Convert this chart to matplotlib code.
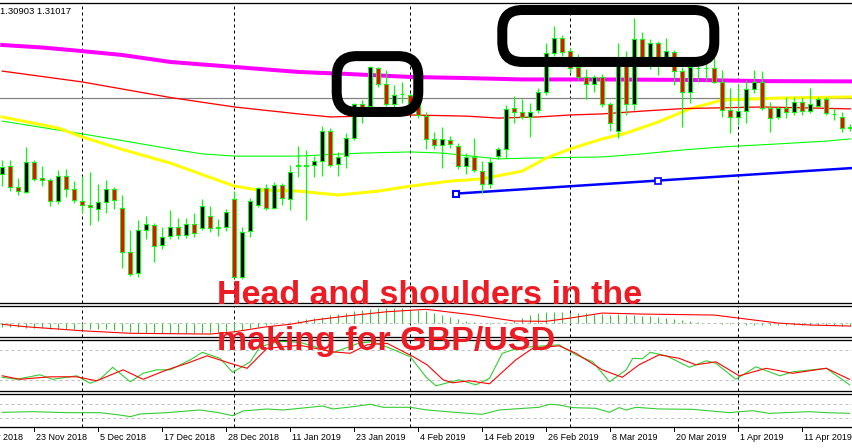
import matplotlib
matplotlib.use("Agg")
import matplotlib.pyplot as plt
from matplotlib.patches import Rectangle, FancyBboxPatch
from matplotlib.transforms import blended_transform_factory

plt.rcParams['font.family'] = ['Liberation Sans', 'DejaVu Sans']

# GBP/USD daily candles, bar 0 = 14 Nov 2018 ... bar 106 = 19 Apr 2019
opens = [1.2815, 1.2843, 1.2768, 1.2750, 1.2858, 1.2800, 1.2793, 1.2717, 1.2807, 1.2761,
         1.2717, 1.2703, 1.2689, 1.2714, 1.2761, 1.2692, 1.2534, 1.2458, 1.2613, 1.2631,
         1.2559, 1.2591, 1.2624, 1.2595, 1.2635, 1.2620, 1.2663, 1.2624, 1.2624, 1.2725,
         1.2444, 1.2609, 1.2703, 1.2764, 1.2692, 1.2775, 1.2725, 1.2847, 1.2847, 1.2847,
         1.2861, 1.2969, 1.2851, 1.2879, 1.2944, 1.3067, 1.3059, 1.3196, 1.3139, 1.3067,
         1.3103, 1.3099, 1.3070, 1.3023, 1.2941, 1.2919, 1.2937, 1.2915, 1.2843, 1.2876,
         1.2825, 1.2779, 1.2879, 1.2905, 1.3052, 1.3038, 1.3020, 1.3045, 1.3110, 1.3250,
         1.3304, 1.3257, 1.3200, 1.3164, 1.3139, 1.3164, 1.3067, 1.2969, 1.3218, 1.3067,
         1.3301, 1.3236, 1.3286, 1.3236, 1.3254, 1.3185, 1.3110, 1.3196, 1.3196, 1.3196,
         1.3146, 1.3045, 1.3020, 1.3041, 1.3121, 1.3146, 1.3052, 1.3020, 1.3052, 1.3038,
         1.3074, 1.3041, 1.3059, 1.3085, 1.3031, 1.3020, 1.2980]
highs = [1.2865, 1.2865, 1.2800, 1.2912, 1.2865, 1.2843, 1.2800, 1.2829, 1.2833, 1.2789,
         1.2807, 1.2822, 1.2779, 1.2793, 1.2768, 1.2739, 1.2613, 1.2649, 1.2663, 1.2638,
         1.2624, 1.2685, 1.2656, 1.2656, 1.2674, 1.2725, 1.2699, 1.2653, 1.2689, 1.2753,
         1.2624, 1.2728, 1.2768, 1.2779, 1.2786, 1.2782, 1.2847, 1.2915, 1.2901, 1.2879,
         1.2987, 1.2980, 1.2894, 1.2962, 1.3070, 1.3081, 1.3203, 1.3200, 1.3189, 1.3135,
         1.3146, 1.3106, 1.3081, 1.3038, 1.2966, 1.2984, 1.2951, 1.2926, 1.2890, 1.2944,
         1.2861, 1.2872, 1.2912, 1.3063, 1.3095, 1.3085, 1.3070, 1.3124, 1.3286, 1.3347,
         1.3315, 1.3268, 1.3247, 1.3193, 1.3171, 1.3175, 1.3074, 1.3286, 1.3257, 1.3376,
         1.3326, 1.3301, 1.3293, 1.3304, 1.3261, 1.3200, 1.3218, 1.3207, 1.3211, 1.3232,
         1.3189, 1.3124, 1.3139, 1.3153, 1.3189, 1.3185, 1.3074, 1.3059, 1.3092, 1.3092,
         1.3092, 1.3124, 1.3092, 1.3092, 1.3052, 1.3038, 1.2995]
lows = [1.2771, 1.2753, 1.2739, 1.2746, 1.2789, 1.2771, 1.2699, 1.2707, 1.2732, 1.2710,
        1.2674, 1.2631, 1.2645, 1.2674, 1.2689, 1.2476, 1.2447, 1.2444, 1.2581, 1.2498,
        1.2545, 1.2581, 1.2581, 1.2584, 1.2588, 1.2613, 1.2606, 1.2591, 1.2609, 1.2440,
        1.2437, 1.2588, 1.2696, 1.2685, 1.2689, 1.2703, 1.2685, 1.2804, 1.2649, 1.2804,
        1.2807, 1.2840, 1.2807, 1.2836, 1.2937, 1.2998, 1.3052, 1.3128, 1.3059, 1.3052,
        1.3070, 1.3059, 1.3016, 1.2905, 1.2905, 1.2836, 1.2908, 1.2833, 1.2815, 1.2822,
        1.2746, 1.2764, 1.2869, 1.2872, 1.2998, 1.3013, 1.2948, 1.3034, 1.3099, 1.3239,
        1.3239, 1.3178, 1.3153, 1.3085, 1.3110, 1.3056, 1.2969, 1.2944, 1.3027, 1.3045,
        1.3225, 1.3193, 1.3171, 1.3225, 1.3135, 1.2984, 1.3070, 1.3146, 1.3149, 1.3142,
        1.3020, 1.2962, 1.2991, 1.2998, 1.3106, 1.3045, 1.2966, 1.3013, 1.3016, 1.3027,
        1.3027, 1.3034, 1.3056, 1.3027, 1.3009, 1.2966, 1.2969]
closes = [1.2840, 1.2768, 1.2753, 1.2858, 1.2797, 1.2793, 1.2717, 1.2807, 1.2761, 1.2721,
          1.2703, 1.2696, 1.2714, 1.2761, 1.2721, 1.2534, 1.2455, 1.2613, 1.2635, 1.2555,
          1.2588, 1.2624, 1.2595, 1.2635, 1.2602, 1.2699, 1.2620, 1.2620, 1.2678, 1.2444,
          1.2606, 1.2717, 1.2764, 1.2692, 1.2775, 1.2728, 1.2822, 1.2843, 1.2845, 1.2861,
          1.2969, 1.2847, 1.2876, 1.2944, 1.3067, 1.3056, 1.3200, 1.3139, 1.3067, 1.3099,
          1.3101, 1.3070, 1.3027, 1.2941, 1.2919, 1.2941, 1.2923, 1.2843, 1.2876, 1.2829,
          1.2779, 1.2858, 1.2905, 1.3049, 1.3038, 1.3020, 1.3038, 1.3110, 1.3250, 1.3304,
          1.3254, 1.3196, 1.3164, 1.3139, 1.3164, 1.3067, 1.2998, 1.3218, 1.3067, 1.3301,
          1.3236, 1.3286, 1.3236, 1.3257, 1.3185, 1.3110, 1.3200, 1.3195, 1.3197, 1.3146,
          1.3045, 1.3020, 1.3041, 1.3121, 1.3146, 1.3052, 1.3016, 1.3052, 1.3038, 1.3074,
          1.3041, 1.3067, 1.3085, 1.3034, 1.3030, 1.2980, 1.2984]

# moving averages, read at selected bars
ma_magenta_bars = [0, 5, 10, 15, 21, 29, 37, 43, 51, 58, 65, 75, 87, 95, 106]
ma_magenta = [1.3279, 1.3270, 1.3257, 1.3243, 1.3218, 1.3200, 1.3182, 1.3175, 1.3164, 1.3160,
              1.3155, 1.3155, 1.3153, 1.3149, 1.3148]
ma_red_bars = [0, 10, 21, 29, 37, 41, 51, 58, 62, 67, 71, 75, 80, 85, 95, 106]
ma_red = [1.3185, 1.3146, 1.3090, 1.3056, 1.3031, 1.3020, 1.3027, 1.3023, 1.3016, 1.3020,
          1.3027, 1.3031, 1.3041, 1.3050, 1.3056, 1.3049]
ma_yellow_bars = [0, 7, 10, 15, 21, 29, 32, 37, 42, 47, 51, 56, 60, 65, 68, 71, 75, 78, 82,
                  86, 90, 97, 106]
ma_yellow = [1.3020, 1.2980, 1.2948, 1.2903, 1.2854, 1.2771, 1.2757, 1.2753, 1.2739, 1.2753,
             1.2771, 1.2789, 1.2797, 1.2825, 1.2872, 1.2905, 1.2941, 1.2962, 1.3002, 1.3050,
             1.3081, 1.3088, 1.3092]
ma_green_bars = [0, 10, 16, 21, 25, 29, 37, 45, 51, 55, 62, 66, 75, 80, 85, 90, 97, 103, 106]
ma_green = [1.3005, 1.2959, 1.2930, 1.2905, 1.2887, 1.2879, 1.2879, 1.2890, 1.2894, 1.2890,
            1.2869, 1.2872, 1.2876, 1.2887, 1.2901, 1.2912, 1.2923, 1.2933, 1.2941]
bid_price = 1.3090

# trend line anchors (bar, price)
trend_bars = [56.7, 82.0]
trend_prices = [1.2744, 1.2791]

# hand-drawn boxes (bar0, bar1, price_low, price_high)
boxes = [(41.8, 52.0, 1.3038, 1.3239), (62.5, 89.0, 1.3218, 1.3405)]

separator_bars = [10, 29, 51, 71, 92]

# MACD panel
macd_hist = [-0.0016, -0.0016, -0.0016, -0.0020, -0.0020, -0.0020, -0.0024, -0.0024, -0.0024, -0.0024,
             -0.0024, -0.0024, -0.0024, -0.0024, -0.0028, -0.0032, -0.0036, -0.0040, -0.0040, -0.0040,
             -0.0040, -0.0040, -0.0040, -0.0040, -0.0040, -0.0040, -0.0040, -0.0036, -0.0036, -0.0036,
             -0.0028, -0.0020, -0.0016, -0.0008, -0.0004, 0.0000, 0.0004, 0.0012, 0.0016, 0.0020,
             0.0024, 0.0032, 0.0036, 0.0040, 0.0048, 0.0052, 0.0056, 0.0060, 0.0060, 0.0060,
             0.0060, 0.0056, 0.0052, 0.0048, 0.0040, 0.0032, 0.0024, 0.0016, 0.0008, 0.0004,
             0.0000, -0.0004, 0.0000, 0.0004, 0.0008, 0.0020, 0.0032, 0.0040, 0.0044, 0.0044,
             0.0044, 0.0040, 0.0040, 0.0040, 0.0036, 0.0036, 0.0032, 0.0036, 0.0032, 0.0032,
             0.0028, 0.0028, 0.0024, 0.0020, 0.0016, 0.0012, 0.0008, 0.0004, 0.0000, 0.0000,
             -0.0004, -0.0004, -0.0004, -0.0008, -0.0008, -0.0008, -0.0008, -0.0008, -0.0008, -0.0008,
             -0.0008, -0.0008, -0.0008, -0.0008, -0.0008, -0.0012, -0.0012]
macd_sig_bars = [0, 3, 7, 10, 16, 26, 29, 33, 36, 39, 43, 48, 53, 59, 64, 68, 71, 75, 80, 89,
                 92, 97, 101, 106]
macd_sig = [-0.0004, -0.0014, -0.0023, -0.0030, -0.0040, -0.0043, -0.0034, -0.0014, -0.0004, 0.0013,
            0.0029, 0.0046, 0.0056, 0.0033, 0.0009, 0.0008, 0.0021, 0.0041, 0.0037, 0.0033,
            0.0021, 0.0001, -0.0007, -0.0011]

# stochastic panel
stoch_k_bars = [0, 1.8, 4.7, 6.3, 9.3, 11, 12.2, 13.8, 16, 17.6, 19.3, 21, 23.5, 25, 27.2, 28.8,
                31, 32.2, 34.7, 37.2, 39.7, 41.3, 44.7, 46.3, 48.5, 51, 53, 54.2, 57.1, 59.2,
                60.9, 62.5, 63.8, 66, 69.6, 71.7, 73.8, 75.9, 78, 78.8, 80, 81, 83, 85.9, 88,
                89.2, 91.7, 94.2, 97.2, 98.8, 103, 105.9]
stoch_k = [26, 22, 31, 22, 29, 14, 22, 46, 17, 34, 41, 41, 61, 76, 64, 36,
           57, 87, 98, 96, 84, 75, 95, 97, 84, 67, 26, 9, 21, 11,
           24, 74, 81, 87, 91, 71, 57, 17, 41, 64, 63, 76, 69, 46, 59,
           54, 22, 47, 29, 37, 44, 11]
stoch_d_bars = [0, 2.2, 6, 9.3, 11.8, 15.1, 17.6, 20.6, 23.1, 25.6, 28.5, 30.6, 33.1, 37.2,
                41.3, 43.5, 45.6, 48.1, 51.4, 53.1, 55.1, 56.3, 58.4, 60.9, 64.2, 66.3, 69.6,
                71.7, 75, 77.5, 79.6, 82.1, 84.6, 86.7, 89.2, 92.1, 95.5, 98.8, 103, 105.9]
stoch_d = [29, 22, 27, 27, 19, 41, 22, 41, 54, 69, 54, 44, 84, 90,
           77, 74, 91, 94, 67, 51, 21, 15, 19, 13, 61, 84, 89,
           74, 41, 26, 51, 71, 64, 51, 57, 29, 44, 34, 44, 22]

# RSI panel
rsi_bars = [0, 3.8, 8.1, 12.2, 14.7, 16, 17.2, 20.6, 24.7, 26.8, 28.8, 30.1, 33.1, 35.1, 37.2,
            40.1, 41.3, 43.9, 46, 47.6, 51, 53.1, 57.1, 60, 62.1, 67.1, 68.4, 69.6, 71.3, 74.2,
            75.9, 77.1, 78, 79.2, 82.1, 86.3, 90.9, 93.8, 95.9, 100.9, 103, 105.9]
rsi = [46, 48, 45, 45, 38, 33, 41, 45, 53, 46, 36, 50, 56, 53, 58,
       65, 56, 63, 70, 61, 61, 53, 45, 40, 53, 61, 70, 68, 60, 58,
       46, 60, 53, 61, 56, 55, 45, 51, 43, 48, 45, 43]

date_bars = [-4, 4, 12, 20, 28, 36, 44, 52, 60, 68, 76, 84, 92, 100]
date_labels = ["13 Nov 2018", "23 Nov 2018", "5 Dec 2018", "17 Dec 2018", "28 Dec 2018",
               "11 Jan 2019", "23 Jan 2019", "4 Feb 2019", "14 Feb 2019", "26 Feb 2019",
               "8 Mar 2019", "20 Mar 2019", "1 Apr 2019", "11 Apr 2019"]

LIME = '#00FF00'
PX = 0.72  # one pixel in points at dpi 100
W, H = 852, 448

fig = plt.figure(figsize=(W / 100, H / 100), dpi=100)
fig.patch.set_facecolor('white')


def panel(top, bottom):
    a = fig.add_axes([-2 / W, 1 - bottom / H, (W + 4) / W, (bottom - top) / H])
    a.set_xlim(-0.5375, 106.4625)
    a.set_yticks([])
    a.set_xticks([])
    for s in ['left', 'right']:
        a.spines[s].set_visible(False)
    for s in ['top', 'bottom']:
        a.spines[s].set_linewidth(1.3 * PX)
    return a


ax = panel(2.5, 303)
ax1 = panel(305.5, 337)
ax2 = panel(339.5, 391)
ax3 = panel(393.5, 427)

ax.set_ylim(1.23502, 1.34320)
ax1.set_ylim(-0.00548, 0.00712)
ax2.set_ylim(-1.4, 101.6)
ax3.set_ylim(2.2, 102.2)

for a in [ax, ax1, ax2, ax3]:
    for b in separator_bars:
        a.axvline(b, color='black', lw=PX, ls=(0, (3, 3)), zorder=1)

# main chart
ax.axhline(bid_price, color='#808080', lw=1.2 * PX, zorder=1.5)
ax.plot(ma_green_bars, ma_green, color=LIME, lw=1.1 * PX, zorder=2)
ax.plot(ma_yellow_bars, ma_yellow, color='#FFFF00', lw=3 * PX, zorder=2)
ax.plot(ma_red_bars, ma_red, color='#FF0000', lw=1.3 * PX, zorder=2)
ax.plot(ma_magenta_bars, ma_magenta, color='#FF00FF', lw=4 * PX, zorder=2)

slope = (trend_prices[1] - trend_prices[0]) / (trend_bars[1] - trend_bars[0])
end_bar = 107
ax.plot([trend_bars[0], end_bar], [trend_prices[0], trend_prices[0] + slope * (end_bar - trend_bars[0])],
        color='#0000FF', lw=2.5 * PX, zorder=3, solid_capstyle='butt')
ax.plot(trend_bars[0], trend_prices[0], marker='s', ms=5, mfc='white', mec='#0000FF', mew=1.5, zorder=3.5)
ax.plot(trend_bars[1], trend_prices[1], marker='s', ms=4, mfc='white', mec='#0000FF', mew=1.2, zorder=3.5)

for i, (o, h, l, c) in enumerate(zip(opens, highs, lows, closes)):
    ax.vlines(i, l, h, color=LIME, lw=1.2 * PX, zorder=4)
    lo, hi = min(o, c), max(o, c)
    if hi - lo < 0.00008:
        ax.hlines((o + c) / 2, i - 0.31, i + 0.31, color=LIME, lw=1.6 * PX, zorder=5)
    else:
        ax.add_patch(Rectangle((i - 0.25, lo), 0.5, hi - lo, facecolor='black' if c > o else '#FF0000',
                               edgecolor=LIME, lw=1.1 * PX, zorder=5))

# rounded boxes
y_per_px = (ax.get_ylim()[1] - ax.get_ylim()[0]) / 300.5
aspect = y_per_px / 0.125
for b0, b1, p0, p1 in boxes:
    ax.add_patch(FancyBboxPatch((b0, p0), b1 - b0, p1 - p0,
                                boxstyle="round,pad=0,rounding_size=2.5", mutation_aspect=aspect,
                                facecolor='none', edgecolor='black', lw=10 * PX, zorder=6,
                                clip_on=False))

ax.text(0.0, 0.975, "1.30903 1.31017", transform=fig.transFigure, fontsize=6.8, va='center', ha='left')

# MACD
ax1.axhline(0, color='#C0C0C0', lw=PX, ls=(0, (3, 3)), zorder=1)
ax1.vlines(range(len(macd_hist)), 0, macd_hist, color='#32CD32', lw=1.1 * PX, zorder=2)
ax1.plot(macd_sig_bars, macd_sig, color='#FF0000', lw=1.1 * PX, zorder=3)

# stochastic
for lvl in [20, 80]:
    ax2.axhline(lvl, color='#C0C0C0', lw=PX, ls=(0, (3, 3)), zorder=1)
ax2.plot(stoch_k_bars, stoch_k, color='#32CD32', lw=1.1 * PX, zorder=2)
ax2.plot(stoch_d_bars, stoch_d, color='#FF0000', lw=1.1 * PX, zorder=3)

# RSI
for lvl in [30, 70]:
    ax3.axhline(lvl, color='#C0C0C0', lw=PX, ls=(0, (3, 3)), zorder=1)
ax3.plot(rsi_bars, rsi, color='#32CD32', lw=1.1 * PX, zorder=2)

# time axis
trans = blended_transform_factory(ax3.transData, ax3.transAxes)
for b, lab in zip(date_bars, date_labels):
    ax3.plot([b, b], [0, -0.11], color='black', lw=PX, transform=trans, clip_on=False)
    ax3.text(b + 0.15, -0.30, lab, transform=trans, fontsize=6.5, ha='left', va='center', clip_on=False)

# annotation text
red = '#ED1C24'
fig.text(217 / W, 1 - 303.5 / H, "Head and shoulders in the", fontsize=24.5, fontweight='bold',
         color=red, ha='left', va='baseline', family='Liberation Sans', zorder=10)
fig.text(217 / W, 1 - 350 / H, "making for GBP/USD", fontsize=24.5, fontweight='bold',
         color=red, ha='left', va='baseline', family='Liberation Sans', zorder=10)

fig.savefig("out.png", dpi=100, facecolor='white')
